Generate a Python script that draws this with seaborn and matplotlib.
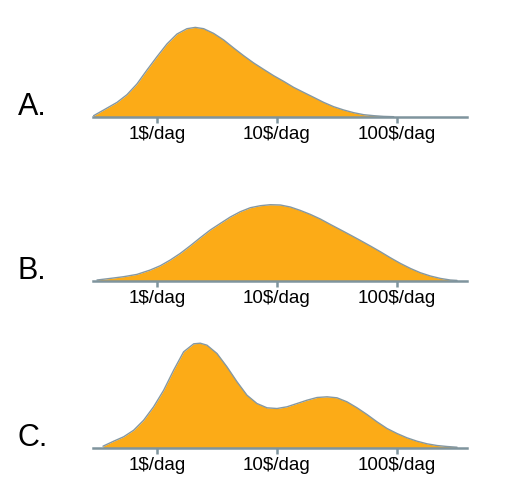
import matplotlib
matplotlib.use("Agg")
import matplotlib.pyplot as plt
import numpy as np
import pandas as pd
import seaborn as sns

# log10 of income ($/dag) and curve height
a_logx = [-0.528, -0.444, -0.333, -0.25, -0.167, -0.083, 0.0, 0.083, 0.167, 0.25,
          0.319, 0.389, 0.472, 0.556, 0.639, 0.722, 0.806, 0.889, 0.972, 1.056,
          1.139, 1.222, 1.306, 1.389, 1.472, 1.556, 1.639, 1.722, 1.806, 1.889, 1.972]
a_dens = [1.0, 6.7, 14.3, 22.0, 32.7, 46.7, 60.0, 72.7, 82.7, 88.0,
          89.3, 88.0, 83.3, 76.7, 68.7, 61.0, 53.7, 47.3, 41.0, 35.3,
          29.3, 24.3, 19.3, 14.3, 10.0, 6.7, 4.0, 2.0, 1.0, 0.3, 0.0]

b_logx = [-0.5, -0.389, -0.278, -0.167, -0.056, 0.028, 0.111, 0.194, 0.278, 0.361,
          0.444, 0.528, 0.611, 0.694, 0.778, 0.861, 0.944, 1.028, 1.111, 1.194,
          1.278, 1.361, 1.444, 1.528, 1.611, 1.694, 1.778, 1.861, 1.944, 2.028,
          2.111, 2.194, 2.278, 2.361, 2.444, 2.5]
b_dens = [0.7, 2.3, 4.0, 6.3, 10.7, 15.0, 20.7, 27.3, 35.0, 43.0,
          50.7, 57.3, 63.7, 69.0, 73.0, 75.0, 76.0, 75.7, 73.7, 70.3,
          66.3, 61.7, 56.3, 51.0, 45.7, 40.3, 34.7, 29.0, 23.0, 17.3,
          12.3, 8.0, 4.7, 2.3, 0.7, 0.3]

c_logx = [-0.45, -0.361, -0.278, -0.194, -0.111, -0.028, 0.056, 0.139, 0.222, 0.306,
          0.361, 0.417, 0.5, 0.583, 0.667, 0.75, 0.833, 0.917, 1.0, 1.083,
          1.167, 1.25, 1.333, 1.417, 1.5, 1.583, 1.667, 1.75, 1.833, 1.917,
          2.0, 2.083, 2.167, 2.25, 2.333, 2.417, 2.5]
c_dens = [1.3, 6.3, 10.7, 17.3, 27.3, 40.7, 57.3, 77.3, 95.7, 103.7,
          104.3, 102.3, 94.0, 80.7, 65.7, 52.3, 44.0, 39.7, 39.0, 40.7,
          44.0, 47.3, 50.0, 50.7, 49.7, 45.7, 39.7, 33.0, 25.7, 19.0,
          14.0, 9.7, 6.3, 3.7, 2.0, 1.0, 0.3]

panel_labels = ["A.", "B.", "C."]
tick_values = [1, 10, 100]
tick_labels = ["1$/dag", "10$/dag", "100$/dag"]

fill_col = "#FCAB17"
edge_col = "#8598a2"
axis_col = "#7f949d"

sns.set_style("white")
plt.rcParams["font.family"] = ["Liberation Sans", "DejaVu Sans"]
plt.rcParams["text.color"] = "black"

fig = plt.figure(figsize=(5.10, 4.87), dpi=100)

bottoms = [0.7604, 0.4236, 0.0811]
series = [(a_logx, a_dens), (b_logx, b_dens), (c_logx, c_dens)]

for (lx, dens), bot, lab in zip(series, bottoms, panel_labels):
    ax = fig.add_axes([93 / 510, bot, 374 / 510, 110 / 487])
    df = pd.DataFrame({"inc": 10 ** np.array(lx), "dens": dens})
    ax.fill_between(df["inc"], 0, df["dens"], color=fill_col, linewidth=0, zorder=1)
    sns.lineplot(data=df, x="inc", y="dens", ax=ax, color=edge_col, linewidth=1.0,
                 sort=False, zorder=2)
    ax.set_xscale("log")
    ax.set_xlim(10 ** -0.533, 10 ** 2.583)
    ax.set_ylim(0, 110)
    ax.set_xticks(tick_values)
    ax.set_xticklabels(tick_labels, fontsize=13.5)
    ax.xaxis.set_minor_locator(matplotlib.ticker.NullLocator())
    ax.tick_params(axis="x", length=4, width=1.8, color=axis_col, pad=3,
                   bottom=True, labelcolor="black")
    ax.set_yticks([])
    ax.set_xlabel("")
    ax.set_ylabel("")
    for s in ["top", "right", "left"]:
        ax.spines[s].set_visible(False)
    ax.spines["bottom"].set_color(axis_col)
    ax.spines["bottom"].set_linewidth(1.8)
    ax.spines["bottom"].set_zorder(3)
    ax.patch.set_alpha(0)
    fig.text(18 / 510, bot + 2 / 487, lab, fontsize=22, ha="left", va="baseline",
             color="black")

fig.savefig("out.png", dpi=100)
